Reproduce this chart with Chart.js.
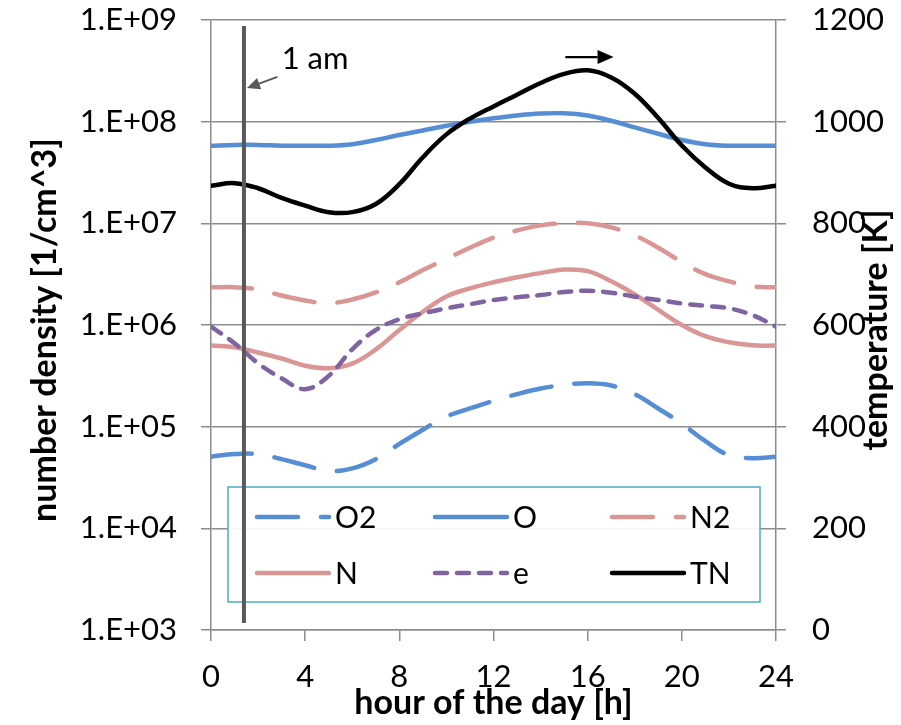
<!DOCTYPE html>
<html><head><meta charset="utf-8">
<script src="https://cdn.jsdelivr.net/npm/chart.js@4/dist/chart.umd.min.js"></script>
<style>html,body{margin:0;padding:0;background:#fff;}#wrap{width:901px;height:725px;}</style>
</head><body><div id="wrap"><canvas id="c" width="901" height="725"></canvas></div>
<script>
// ---- data ----
const hours = [0,1,2,3,4,5,6,7,8,9,10,11,12,13,14,15,16,17,18,19,20,21,22,23,24];
const o2 = [5.07e4,5.37e4,5.37e4,4.79e4,4.17e4,3.67e4,3.89e4,4.79e4,6.76e4,9.33e4,1.26e5,1.51e5,1.8e5,2.09e5,2.37e5,2.57e5,2.67e5,2.54e5,2.09e5,1.51e5,1.07e5,7.2e4,5.25e4,4.9e4,5.07e4];
const o  = [5.8e7,5.9e7,5.9e7,5.8e7,5.8e7,5.8e7,6.0e7,6.6e7,7.4e7,8.2e7,9.1e7,1.0e8,1.08e8,1.15e8,1.2e8,1.21e8,1.15e8,1.02e8,8.8e7,7.6e7,6.6e7,6.0e7,5.8e7,5.8e7,5.8e7];
const n2 = [2.35e6,2.35e6,2.24e6,1.95e6,1.74e6,1.64e6,1.78e6,2.09e6,2.63e6,3.47e6,4.47e6,5.75e6,7.24e6,8.51e6,9.55e6,1.0e7,1.0e7,9.12e6,7.59e6,5.75e6,4.17e6,3.16e6,2.69e6,2.4e6,2.35e6];
const n  = [6.27e5,6.03e5,5.37e5,4.68e5,3.98e5,3.76e5,4.17e5,5.75e5,8.91e5,1.35e6,1.91e6,2.29e6,2.63e6,2.95e6,3.24e6,3.51e6,3.39e6,2.69e6,2.0e6,1.41e6,1.0e6,7.76e5,6.76e5,6.31e5,6.27e5];
const e  = [9.64e5,6.61e5,4.2e5,2.99e5,2.34e5,3.16e5,5.77e5,8.93e5,1.14e6,1.3e6,1.46e6,1.6e6,1.76e6,1.87e6,1.97e6,2.11e6,2.17e6,2.08e6,1.9e6,1.76e6,1.63e6,1.54e6,1.46e6,1.25e6,9.64e5];
const tn = [874,879,869,850,835,822,822,838,877,930,975,1006,1030,1053,1076,1094,1101,1087,1055,1007,953,910,878,869,874];
const densityTicks = [1e3,1e4,1e5,1e6,1e7,1e8,1e9];
const tempTicks = [0,200,400,600,800,1000,1200];
const hourTicks = [0,4,8,12,16,20,24];
const seriesNames = ['O2','O','N2','N','e','TN'];
const amHour = 1.4;
const amLabel = '1 am';
const xTitle = 'hour of the day [h]';
const yTitle = 'number density [1/cm^3]';
const y2Title = 'temperature [K]';

// ---- styles ----
const FONT = 'Lato';
const GRID = '#8c8c8c';
const BLUE = '#558ED5', PINK = '#D99694', PURPLE = '#8064A2';
const pts = arr => hours.map((h, i) => ({x: h, y: arr[i]}));
function ds(label, arr, color, dash, axis, order) {
  return {label, data: pts(arr), borderColor: color, backgroundColor: color, borderWidth: 4.5,
    borderDash: dash, borderCapStyle: 'round', borderJoinStyle: 'round', yAxisID: axis, order,
    pointRadius: 0, pointHoverRadius: 0, fill: false, tension: 0.4};
}
const datasets = [
  ds(seriesNames[0], o2, BLUE, [41, 23], 'y', 6),
  ds(seriesNames[1], o, BLUE, [], 'y', 5),
  ds(seriesNames[2], n2, PINK, [41, 23], 'y', 4),
  ds(seriesNames[3], n, PINK, [], 'y', 3),
  ds(seriesNames[4], e, PURPLE, [12, 10], 'y', 2),
  ds(seriesNames[5], tn, '#000000', [], 'y2', 1)
];

const overlay = {
  id: 'overlay',
  afterDatasetsDraw(chart) {
    const {ctx, chartArea: ca, scales: {x, y2}} = chart;
    ctx.save();
    // legend box
    const bx = ca.left + 17, by = 487, bw = ca.right - 16 - bx, bh = 115;
    ctx.fillStyle = 'rgba(255,255,255,0.92)';
    ctx.fillRect(bx, by, bw, bh);
    ctx.strokeStyle = '#4BACC6'; ctx.lineWidth = 1.5;
    ctx.strokeRect(bx, by, bw, bh);
    const colX = [bx + 29, bx + 207, bx + 384];
    const rowY = [by + 30, by + 86];
    chart.data.datasets.forEach((d, i) => {
      const sx = colX[i % 3], sy = rowY[Math.floor(i / 3)];
      ctx.beginPath();
      ctx.setLineDash(d.borderDash);
      ctx.lineCap = 'round';
      ctx.lineWidth = 4.5;
      ctx.strokeStyle = d.borderColor;
      ctx.moveTo(sx, sy); ctx.lineTo(sx + 72, sy); ctx.stroke();
      ctx.setLineDash([]);
      ctx.fillStyle = '#000';
      ctx.font = '30px ' + FONT;
      ctx.textAlign = 'left'; ctx.textBaseline = 'middle';
      ctx.fillText(d.label, sx + 78, sy + 1);
    });
    // 1 am vertical line
    const ax = x.getPixelForValue(amHour);
    ctx.beginPath();
    ctx.lineCap = 'butt';
    ctx.strokeStyle = '#595959'; ctx.lineWidth = 4;
    ctx.moveTo(ax, ca.top + 6); ctx.lineTo(ax, ca.bottom - 7); ctx.stroke();
    // arrow to the line
    const a0 = {x: x.getPixelForValue(2.82), y: y2.getPixelForValue(1088)};
    const a1 = {x: ax + 3, y: y2.getPixelForValue(1066)};
    drawArrow(ctx, a0, a1, '#595959', 2, 13, 6);
    // label
    ctx.fillStyle = '#000'; ctx.font = '31px ' + FONT;
    ctx.textAlign = 'left'; ctx.textBaseline = 'middle';
    ctx.fillText(amLabel, x.getPixelForValue(3.0), y2.getPixelForValue(1123));
    // right-axis arrow near TN peak
    const r0 = {x: x.getPixelForValue(15.05), y: y2.getPixelForValue(1127)};
    const r1 = {x: x.getPixelForValue(17.1), y: y2.getPixelForValue(1127)};
    drawArrow(ctx, r0, r1, '#000', 2.2, 16, 7);
    ctx.restore();
  },
  afterDraw(chart) {
    const {ctx, chartArea: ca} = chart;
    ctx.save();
    ctx.fillStyle = '#000';
    ctx.textAlign = 'center'; ctx.textBaseline = 'middle';
    const cy = (ca.top + ca.bottom) / 2 + 5;
    ctx.font = 'bold 34px ' + FONT;
    ctx.save(); ctx.translate(45, cy); ctx.rotate(-Math.PI / 2); ctx.fillText(yTitle, 0, 0); ctx.restore();
    ctx.save(); ctx.translate(876, cy); ctx.rotate(-Math.PI / 2); ctx.fillText(y2Title, 0, 0); ctx.restore();
    ctx.fillText(xTitle, (ca.left + ca.right) / 2, 703);
    ctx.restore();
  }
};
function drawArrow(ctx, p0, p1, color, lw, hl, hw) {
  const ang = Math.atan2(p1.y - p0.y, p1.x - p0.x);
  const bx = p1.x - hl * Math.cos(ang), by = p1.y - hl * Math.sin(ang);
  ctx.beginPath(); ctx.strokeStyle = color; ctx.lineWidth = lw; ctx.setLineDash([]);
  ctx.moveTo(p0.x, p0.y); ctx.lineTo(bx, by); ctx.stroke();
  ctx.beginPath(); ctx.fillStyle = color;
  ctx.moveTo(p1.x, p1.y);
  ctx.lineTo(bx + hw * Math.sin(ang), by - hw * Math.cos(ang));
  ctx.lineTo(bx - hw * Math.sin(ang), by + hw * Math.cos(ang));
  ctx.closePath(); ctx.fill();
}
const fixV = w => s => { s.width = w; s.paddingTop = 0; s.paddingBottom = 0; };

const tickFont = {family: FONT, size: 31};
new Chart(document.getElementById('c'), {
  type: 'line',
  data: {datasets},
  plugins: [overlay],
  options: {
    responsive: false, devicePixelRatio: 1, animation: false,
    layout: {padding: {top: 20, left: 0, right: 0, bottom: 0}},
    plugins: {legend: {display: false}, tooltip: {enabled: false}},
    scales: {
      x: {type: 'linear', min: 0, max: 24,
        afterBuildTicks: s => { s.ticks = hourTicks.map(v => ({value: v})); },
        ticks: {font: tickFont, color: '#000', padding: 17, maxRotation: 0, autoSkip: false,
          callback: v => String(v)},
        grid: {drawOnChartArea: false, tickLength: 11, color: GRID, lineWidth: 1.5},
        border: {color: GRID, width: 1.5},
        afterFit: s => { s.height = 95; s.paddingLeft = 0; s.paddingRight = 0; }},
      y: {type: 'logarithmic', position: 'left', min: 1e3, max: 1e9,
        afterBuildTicks: s => { s.ticks = densityTicks.map(v => ({value: v})); },
        ticks: {font: tickFont, color: '#000', padding: 24, autoSkip: false,
          callback: v => '1.E+' + String(Math.round(Math.log10(v))).padStart(2, '0')},
        grid: {color: GRID, lineWidth: 1.5, tickLength: 10},
        border: {color: GRID, width: 1.5},
        afterFit: fixV(211)},
      y2: {type: 'linear', position: 'right', min: 0, max: 1200,
        afterBuildTicks: s => { s.ticks = tempTicks.map(v => ({value: v})); },
        ticks: {font: tickFont, color: '#000', padding: 26, autoSkip: false,
          callback: v => String(v)},
        grid: {drawOnChartArea: false, color: GRID, lineWidth: 1.5, tickLength: 10},
        border: {color: GRID, width: 1.5},
        afterFit: fixV(125)}
    }
  }
});
</script></body></html>
